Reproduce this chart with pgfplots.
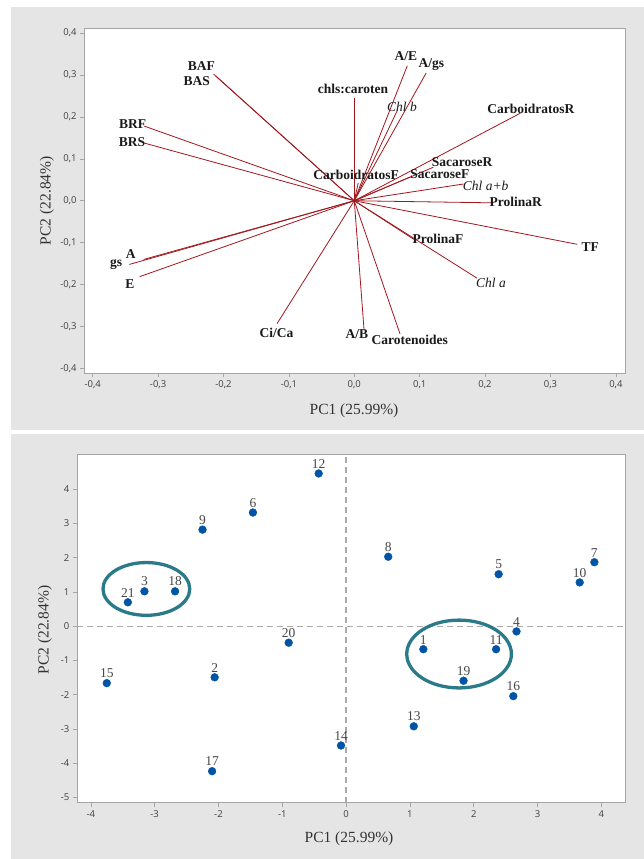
\documentclass[border=0pt]{standalone}
\usepackage{fontspec}
\setmainfont{Liberation Serif}
\newfontfamily\tickfont{Open Sans}
\usepackage{pgfplots}
\pgfplotsset{compat=1.18}
\definecolor{bg}{RGB}{229,229,229}
\definecolor{vec}{RGB}{160,24,30}
\definecolor{dot}{RGB}{0,84,166}
\definecolor{ring}{RGB}{43,122,137}
\definecolor{frm}{RGB}{165,165,165}
\definecolor{ref}{RGB}{170,170,170}

\pgfplotstableread{
x y u v
0 0 -0.215 0.302
0 0 -0.212 0.298
0 0 -0.321 0.178
0 0 -0.322 0.138
0 0 -0.322 -0.140
0 0 -0.344 -0.152
0 0 -0.328 -0.181
0 0 -0.118 -0.293
0 0 0.015 -0.309
0 0 0.070 -0.318
0 0 0.188 -0.185
0 0 0.091 -0.092
0 0 0.341 -0.104
0 0 0.213 -0.005
0 0 0.167 0.040
0 0 0.086 0.057
0 0 0.121 0.080
0 0 0.006 0.042
0 0 0.254 0.209
0 0 0.000 0.245
0 0 0.066 0.216
0 0 0.081 0.322
0 0 0.110 0.305
}\loadings

\pgfplotstableread{
x y lab
-0.43 4.46 12
-1.46 3.32 6
-2.25 2.82 9
0.66 2.03 8
3.89 1.87 7
2.39 1.52 5
3.66 1.28 10
-3.16 1.02 3
-2.68 1.02 18
-3.42 0.70 21
2.67 -0.15 4
-0.90 -0.48 20
1.21 -0.67 1
2.35 -0.67 11
1.84 -1.59 19
-3.75 -1.66 15
-2.06 -1.49 2
2.62 -2.04 16
1.06 -2.92 13
-0.08 -3.48 14
-2.10 -4.23 17
}\scores

\pgfplotsset{
  common/.style={
    scale only axis, anchor=south west,
    axis background/.style={fill=white},
    axis line style={frm},
    tick align=outside, xtick pos=left, ytick pos=left,
    major tick length=4pt, tick style={frm, line width=0.6pt},
    ticklabel style={font=\tickfont\fontsize{9.5}{10}\selectfont, text=black!75},
    /pgf/number format/assume math mode=true,
    clip=false,
  }
}
\tikzset{lab/.style={font=\bfseries\fontsize{13.5}{13.5}\selectfont, text=black!90, inner sep=0pt},
         labi/.style={font=\itshape\fontsize{13.5}{13.5}\selectfont, text=black!90, inner sep=0pt}}

\begin{document}
\begin{tikzpicture}
\useasboundingbox (0pt,0pt) rectangle (644pt,859pt);
\fill[white] (0pt,0pt) rectangle (644pt,859pt);
\fill[bg] (11pt,429pt) rectangle (644pt,852pt);
\fill[bg] (11pt,0pt) rectangle (644pt,425pt);

\begin{axis}[common, at={(84.2pt,486pt)}, width=540.8pt, height=344.7pt,
  xmin=-0.413, xmax=0.414, ymin=-0.411, ymax=0.4115,
  xtick={-0.4,-0.3,-0.2,-0.1,0,0.1,0.2,0.3,0.4},
  ytick={-0.4,-0.3,-0.2,-0.1,0,0.1,0.2,0.3,0.4},
  xticklabels={{-0,4},{-0,3},{-0,2},{-0,1},{0,0},{0,1},{0,2},{0,3},{0,4}},
  yticklabels={{-0,4},{-0,3},{-0,2},{-0,1},{0,0},{0,1},{0,2},{0,3},{0,4}},
]
\addplot[vec, line width=0.8pt, no markers, quiver={u=\thisrow{u}, v=\thisrow{v}}] table[x=x,y=y] {\loadings};
\node[lab] at (axis cs:-0.234,0.321) {BAF};
\node[lab] at (axis cs:-0.241,0.286) {BAS};
\node[lab] at (axis cs:-0.339,0.182) {BRF};
\node[lab] at (axis cs:-0.340,0.139) {BRS};
\node[lab] at (axis cs:-0.342,-0.127) {A};
\node[lab] at (axis cs:-0.364,-0.152) {gs};
\node[lab] at (axis cs:-0.343,-0.199) {E};
\node[lab] at (axis cs:-0.119,-0.316) {Ci/Ca};
\node[lab] at (axis cs:0.004,-0.318) {A/B};
\node[lab] at (axis cs:0.085,-0.333) {Carotenoides};
\node[labi] at (axis cs:0.209,-0.195) {Chl a};
\node[lab] at (axis cs:0.128,-0.092) {ProlinaF};
\node[lab] at (axis cs:0.361,-0.110) {TF};
\node[lab] at (axis cs:0.247,-0.002) {ProlinaR};
\node[labi] at (axis cs:0.201,0.036) {Chl a+b};
\node[lab] at (axis cs:0.131,0.063) {SacaroseF};
\node[lab] at (axis cs:0.165,0.092) {SacaroseR};
\node[lab] at (axis cs:0.003,0.061) {CarboidratosF};
\node[lab] at (axis cs:0.270,0.220) {CarboidratosR};
\node[lab] at (axis cs:-0.002,0.267) {chls:caroten};
\node[labi] at (axis cs:0.073,0.224) {Chl b};
\node[lab] at (axis cs:0.079,0.344) {A/E};
\node[lab] at (axis cs:0.118,0.326) {A/gs};
\end{axis}
\node[font=\fontsize{15.5}{16}\selectfont, text=black!80] at (354pt,448pt) {PC1 (25.99\%)};
\node[font=\fontsize{15.5}{16}\selectfont, text=black!80, rotate=90] at (47pt,658.3pt) {PC2 (22.84\%)};

\begin{axis}[common, at={(76.8pt,56.3pt)}, width=548.2pt, height=348.4pt,
  xmin=-4.22, xmax=4.37, ymin=-5.15, ymax=5.02,
  xtick={-4,-3,-2,-1,0,1,2,3,4},
  ytick={-5,-4,-3,-2,-1,0,1,2,3,4},
]
\addplot[ref, line width=1.3pt, dash pattern=on 6pt off 4pt] coordinates {(0,-5.15) (0,5.02)};
\addplot[ref, line width=1.3pt, dash pattern=on 6pt off 4pt] coordinates {(-4.22,0) (4.37,0)};
\addplot[only marks, mark=*, mark size=3.9pt, mark options={fill=dot, draw=dot},
  nodes near coords, point meta=explicit symbolic,
  every node near coord/.append style={font=\fontsize{13.5}{13.5}\selectfont, text=black!72, anchor=south, inner sep=0pt, yshift=5pt}]
  table[x=x,y=y,meta=lab] {\scores};
\draw[ring, line width=3.3pt] (axis cs:-3.13,1.09) ellipse [x radius=0.68, y radius=0.77];
\draw[ring, line width=3.3pt] (axis cs:1.77,-0.81) ellipse [x radius=0.82, y radius=0.99];
\end{axis}
\node[font=\fontsize{15.5}{16}\selectfont, text=black!80] at (349pt,20pt) {PC1 (25.99\%)};
\node[font=\fontsize{15.5}{16}\selectfont, text=black!80, rotate=90] at (45pt,229pt) {PC2 (22.84\%)};
\end{tikzpicture}
\end{document}
